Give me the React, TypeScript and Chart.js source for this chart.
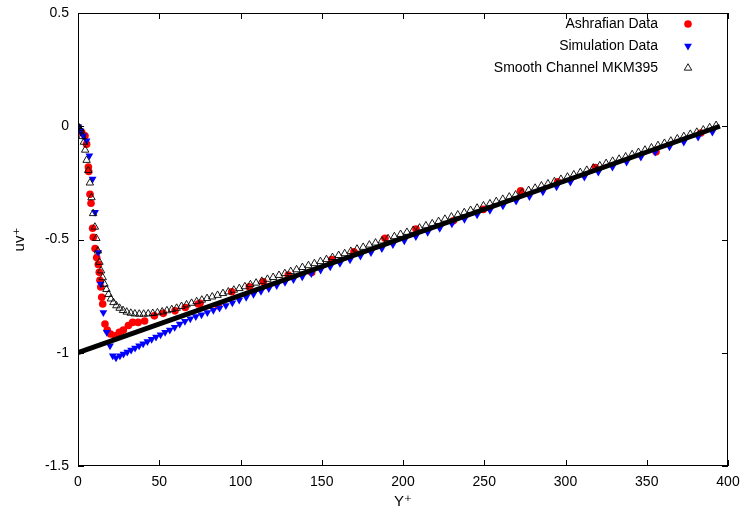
import React, { useEffect, useRef } from 'react';
import { Chart, registerables } from 'chart.js';

Chart.register(...registerables);

// ---------- data ----------
const xTickValues = [0, 50, 100, 150, 200, 250, 300, 350, 400];
const yTickValues = [-1.5, -1, -0.5, 0, 0.5];
const xTitle = 'Y\u207A';
const yTitle = 'uv\u207A';
const seriesLabels = ['Ashrafian Data', 'Simulation Data', 'Smooth Channel MKM395'];

const ashrafianYPlus = [
  0, 2.3, 4.3, 5.3, 6.4, 6.6, 7.4, 8, 9, 9.4, 10.5, 11.5, 12.5, 13.1, 13.5, 14, 14.6, 15.2, 16.6, 18,
  20, 22.8, 25.4, 27.9, 31, 33.6, 37, 41, 47, 52.5, 59.7, 66, 74, 75.1, 86.3, 94.6, 105.4, 114, 129.4,
  143.8, 156.1, 169.8, 188.9, 208, 231, 249.4, 272.4, 295.2, 318.3, 355.7, 383.2,
];
const ashrafianUV = [
  -0.005, -0.027, -0.042, -0.079, -0.18, -0.2, -0.3, -0.34, -0.45, -0.49, -0.54, -0.58, -0.61, -0.645,
  -0.68, -0.71, -0.755, -0.785, -0.873, -0.9, -0.917, -0.925, -0.91, -0.9, -0.88, -0.866, -0.866, -0.86,
  -0.837, -0.826, -0.815, -0.8, -0.785, -0.782, -0.793, -0.731, -0.709, -0.687, -0.657, -0.646, -0.589,
  -0.554, -0.495, -0.454, -0.417, -0.367, -0.285, -0.245, -0.182, -0.113, -0.03,
];

const simulationYPlus = [
  0.2, 1.5, 3.3, 5.3, 7.0, 9.0, 10.5, 12.5, 14.0, 15.6, 17.7, 19.7, 21.4, 23.4, 25.8, 28, 30.3, 32.7,
  35.1, 37.6, 40.1, 42.7, 45.3, 48, 50.8, 53.6, 56.5, 59.5, 62.6, 65.8, 69.1, 72.5, 76, 79.6, 83.3, 87.1,
  91, 95, 99.2, 103.5, 108, 112.6, 117.4, 122.3, 127.4, 132.6, 138, 143.6, 149.3, 155.2, 161.2, 167.4,
  173.8, 180.3, 187, 193.8, 200.8, 207.9, 215.2, 222.6, 230.1, 237.8, 245.6, 253.5, 261.5, 269.6, 277.8,
  286.1, 294.5, 303, 311.6, 320.2, 328.9, 337.6, 346.4, 355.2, 364, 372.8, 381.6, 390.4,
];
const simulationUV = [
  -0.002, -0.02, -0.042, -0.064, -0.13, -0.233, -0.38, -0.557, -0.697, -0.822, -0.91, -0.969, -1.013,
  -1.022, -1.013, -1.005, -0.997, -0.988, -0.979, -0.969, -0.96, -0.95, -0.94, -0.93, -0.92, -0.91, -0.9,
  -0.887, -0.873, -0.861, -0.85, -0.84, -0.832, -0.822, -0.812, -0.802, -0.791, -0.779, -0.767, -0.755,
  -0.742, -0.729, -0.716, -0.703, -0.689, -0.677, -0.664, -0.65, -0.635, -0.62, -0.605, -0.589, -0.573,
  -0.557, -0.54, -0.522, -0.505, -0.487, -0.468, -0.45, -0.431, -0.411, -0.391, -0.371, -0.351, -0.33,
  -0.31, -0.289, -0.267, -0.246, -0.224, -0.202, -0.18, -0.158, -0.136, -0.114, -0.091, -0.069, -0.047,
  -0.025,
];

const mkmYPlus = [
  0, 1.0, 1.8, 2.7, 3.6, 4.4, 5.3, 6.3, 7.3, 8.3, 9.3, 10.4, 11.3, 12.2, 13.2, 14.2, 15.2, 16.3, 17.5,
  18.8, 20.2, 21.8, 23.6, 25.6, 27.7, 30, 32.5, 35, 37.7, 40.4, 43.2, 46, 48.9, 51.8, 54.7, 57.7, 60.7,
  63.7, 66.8, 69.9, 73.0, 76.2, 79.4, 82.6, 85.9, 89.2, 92.5, 95.9, 99.3, 102.7, 106.1, 109.6, 113.1,
  116.6, 120.1, 123.7, 127.3, 130.9, 134.5, 138.1, 141.8, 145.5, 149.2, 152.9, 156.6, 160.4, 164.1,
  167.9, 171.7, 175.5, 179.3, 183.1, 187.0, 190.8, 194.7, 198.5, 202.4, 206.3, 210.2, 214.1, 218.0,
  221.9, 225.8, 229.8, 233.7, 237.7, 241.6, 245.6, 249.5, 253.5, 257.4, 261.4, 265.4, 269.3, 273.3,
  277.3, 281.3, 285.2, 289.2, 293.2, 297.2, 301.2, 305.1, 309.1, 313.1, 317.1, 321.1, 325.0, 329.0,
  333.0, 337.0, 341.0, 344.9, 348.9, 352.9, 356.9, 360.9, 364.8, 368.8, 372.8, 376.8, 380.8, 384.8,
  388.7, 392.7,
];
const mkmUV = [
  0, -0.01, -0.02, -0.045, -0.07, -0.105, -0.15, -0.195, -0.25, -0.315, -0.385, -0.445, -0.495, -0.55,
  -0.6, -0.638, -0.668, -0.697, -0.72, -0.742, -0.762, -0.778, -0.792, -0.803, -0.813, -0.82, -0.825,
  -0.828, -0.829, -0.829, -0.828, -0.826, -0.823, -0.819, -0.814, -0.809, -0.803,
  -0.795, -0.788, -0.781, -0.774, -0.767, -0.76, -0.753, -0.746, -0.738, -0.731, -0.723, -0.716, -0.708,
  -0.699, -0.692, -0.684, -0.675, -0.667, -0.658, -0.65, -0.641, -0.633, -0.623, -0.615, -0.606, -0.597,
  -0.588, -0.579, -0.57, -0.562, -0.552, -0.542, -0.534, -0.524, -0.515, -0.506, -0.496, -0.487, -0.477,
  -0.468, -0.459, -0.449, -0.439, -0.43, -0.42, -0.41, -0.4, -0.391, -0.381, -0.371, -0.361, -0.351,
  -0.342, -0.332, -0.322, -0.312, -0.303, -0.293, -0.283, -0.273, -0.263, -0.254, -0.244, -0.234, -0.224,
  -0.214, -0.204, -0.194, -0.184, -0.174, -0.164, -0.154, -0.145, -0.135, -0.125, -0.115, -0.105, -0.095,
  -0.085, -0.075, -0.065, -0.055, -0.045, -0.035, -0.026, -0.016, -0.006, 0.004,
];

const fitYPlus = [0, 395];
const fitUV = [-1, 0];

// ---------- helpers ----------
const FONT = '"Liberation Sans", "DejaVu Sans", Arial, sans-serif';
const toPoints = (xs: number[], ys: number[]) => xs.map((x, i) => ({ x, y: ys[i] }));

function drawMarker(ctx: CanvasRenderingContext2D, kind: string, x: number, y: number, r: number, fill: string, stroke: string, lw: number) {
  ctx.beginPath();
  if (kind === 'circle') {
    ctx.arc(x, y, r, 0, Math.PI * 2);
  } else {
    const rot = kind === 'down' ? Math.PI : 0;
    for (let k = 0; k < 3; k++) {
      const a = rot + (k * 2 * Math.PI) / 3;
      const px = x + Math.sin(a) * r;
      const py = y - Math.cos(a) * r;
      if (k === 0) ctx.moveTo(px, py);
      else ctx.lineTo(px, py);
    }
    ctx.closePath();
  }
  if (fill !== 'none') {
    ctx.fillStyle = fill;
    ctx.fill();
  }
  if (lw > 0) {
    ctx.lineWidth = lw;
    ctx.strokeStyle = stroke;
    ctx.stroke();
  }
}

const framePlugin = {
  id: 'frameTicks',
  afterDraw(chart: any) {
    const { ctx, chartArea } = chart;
    const { left, right, top, bottom } = chartArea;
    const xs = chart.scales.x;
    const ys = chart.scales.y;
    ctx.save();
    ctx.strokeStyle = '#000';
    ctx.lineWidth = 1;
    ctx.strokeRect(left + 0.5, top + 0.5, right - left - 1, bottom - top - 1);
    ctx.beginPath();
    const len = 6;
    xTickValues.forEach((v) => {
      const px = Math.round(xs.getPixelForValue(v)) + 0.5;
      ctx.moveTo(px, bottom);
      ctx.lineTo(px, bottom - len);
      ctx.moveTo(px, top);
      ctx.lineTo(px, top + len);
    });
    yTickValues.forEach((v) => {
      const py = Math.round(ys.getPixelForValue(v)) + 0.5;
      ctx.moveTo(left, py);
      ctx.lineTo(left + len, py);
      ctx.moveTo(right, py);
      ctx.lineTo(right - len, py);
    });
    ctx.stroke();
    ctx.restore();
  },
};

const legendPlugin = {
  id: 'insideLegend',
  afterDraw(chart: any) {
    const { ctx, chartArea } = chart;
    const markers = [
      { kind: 'circle', fill: '#ff0000', stroke: '#ff0000', lw: 0, r: 3.8 },
      { kind: 'down', fill: '#0000ff', stroke: '#0000ff', lw: 0, r: 4.5 },
      { kind: 'up', fill: 'none', stroke: '#000', lw: 0.9, r: 4.3 },
    ];
    ctx.save();
    ctx.font = `14px ${FONT}`;
    ctx.textAlign = 'right';
    ctx.textBaseline = 'middle';
    seriesLabels.forEach((label, i) => {
      const y = chartArea.top + 11 + i * 22;
      ctx.fillStyle = '#000';
      ctx.fillText(label, chartArea.right - 70, y);
      const m = markers[i];
      drawMarker(ctx, m.kind, chartArea.right - 40, y, m.r, m.fill, m.stroke, m.lw);
    });
    ctx.restore();
  },
};

export default function App() {
  const canvasRef = useRef<HTMLCanvasElement | null>(null);

  useEffect(() => {
    document.body.style.margin = '0';
    const canvas = canvasRef.current;
    if (!canvas) return;
    const chart = new Chart(canvas, {
      type: 'scatter',
      data: {
        datasets: [
          {
            label: seriesLabels[0],
            data: toPoints(ashrafianYPlus, ashrafianUV),
            pointStyle: 'circle',
            pointRadius: 3.8,
            backgroundColor: '#ff0000',
            borderColor: '#ff0000',
            borderWidth: 0,
            order: 3,
          },
          {
            label: seriesLabels[1],
            data: toPoints(simulationYPlus, simulationUV),
            pointStyle: 'triangle',
            rotation: 180,
            pointRadius: 4.5,
            backgroundColor: '#0000ff',
            borderColor: '#0000ff',
            borderWidth: 0,
            order: 2,
          },
          {
            label: 'fit',
            type: 'line',
            data: toPoints(fitYPlus, fitUV),
            borderColor: '#000',
            backgroundColor: '#000',
            borderWidth: 5,
            pointRadius: 0,
            showLine: true,
            fill: false,
            order: 1,
          } as any,
          {
            label: seriesLabels[2],
            data: toPoints(mkmYPlus, mkmUV),
            pointStyle: 'triangle',
            pointRadius: 4.3,
            backgroundColor: 'rgba(0,0,0,0)',
            borderColor: '#000',
            borderWidth: 0.9,
            order: 0,
          },
        ],
      },
      options: {
        animation: false,
        responsive: false,
        layout: { padding: { top: 13, right: 17, left: 0, bottom: 0 } },
        plugins: {
          legend: { display: false },
          tooltip: { enabled: false },
        },
        scales: {
          x: {
            type: 'linear',
            min: 0,
            max: 400,
            afterBuildTicks: (s: any) => {
              s.ticks = xTickValues.map((v) => ({ value: v }));
            },
            afterFit: (s: any) => {
              s.height = 49;
              s.paddingLeft = 0;
              s.paddingRight = 0;
              s.paddingTop = 0;
              s.paddingBottom = 0;
            },
            ticks: {
              font: { family: FONT, size: 14 },
              color: '#000',
              padding: 8,
              maxRotation: 0,
              callback: (v: any) => String(v),
            },
            grid: { display: false, drawTicks: false },
            border: { display: false },
            title: {
              display: true,
              text: xTitle,
              color: '#000',
              font: { family: FONT, size: 15 },
              padding: { top: 0, bottom: 4 },
            },
          },
          y: {
            type: 'linear',
            min: -1.5,
            max: 0.5,
            afterBuildTicks: (s: any) => {
              s.ticks = yTickValues.map((v) => ({ value: v }));
            },
            afterFit: (s: any) => {
              s.width = 78;
              s.paddingLeft = 0;
              s.paddingRight = 0;
              s.paddingTop = 0;
              s.paddingBottom = 0;
            },
            ticks: {
              font: { family: FONT, size: 14 },
              color: '#000',
              padding: 9,
              callback: (v: any) => String(v),
            },
            grid: { display: false, drawTicks: false },
            border: { display: false },
            title: {
              display: true,
              text: yTitle,
              color: '#000',
              font: { family: FONT, size: 15 },
              padding: { top: 11, bottom: 0 },
            },
          },
        },
      },
      plugins: [framePlugin, legendPlugin],
    } as any);
    return () => chart.destroy();
  }, []);

  return (
    <div style={{ width: 745, height: 515, position: 'relative', background: '#fff' }}>
      <canvas ref={canvasRef} width={745} height={515} />
    </div>
  );
}
